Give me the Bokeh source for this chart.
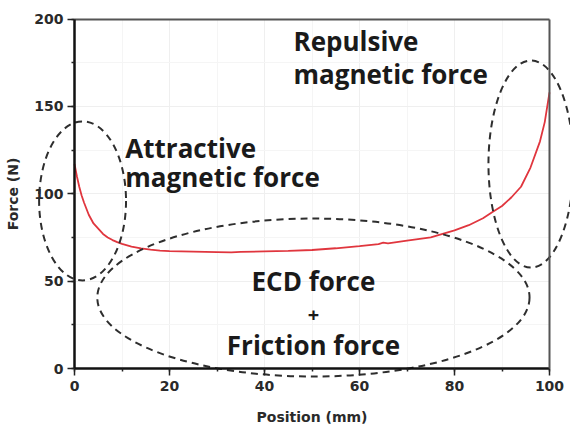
from bokeh.plotting import figure
from bokeh.models import Range1d, SingleIntervalTicker, FixedTicker, Label, LinearAxis, Grid
from bokeh.embed import file_html
from bokeh.resources import INLINE

# measured force curve
position_mm = [0, 0.5, 1, 1.5, 2, 3, 4, 5, 6, 7, 8, 9, 10, 12, 14, 16, 18, 20, 25, 30,
               33, 35, 40, 45, 50, 55, 60, 64, 65, 66, 70, 75, 80, 83, 86, 88, 90, 92, 94, 96, 98, 99, 100]
force_n = [117, 110, 104, 99, 95, 88, 83, 80, 77, 75, 73.5, 72.3, 71.3, 69.8, 68.8, 68, 67.5, 67.2, 66.9, 66.6,
           66.4, 66.7, 67.0, 67.3, 67.8, 68.8, 70.0, 71.2, 72.0, 71.6, 73.2, 75.0, 79.0, 82.0, 86.0, 89.5,
           93, 98, 104, 115, 130, 141, 158]

x_ticks = [0, 20, 40, 60, 80, 100]
y_ticks = [0, 50, 100, 150, 200]

# dashed region outlines (data units): center x, center y, width, height
region_cx = [1.7, 96.1, 50.3]
region_cy = [95.9, 117.0, 40.6]
region_w = [18.3, 17.9, 91.0]
region_h = [91.0, 118.5, 90.4]

W, H = 570, 424
# frame fills the canvas; the axes sit at fixed data locations so that the
# dashed outlines can extend past the axis box as in the original
px_x = 4.75      # pixels per mm
px_y = 1.7475    # pixels per N
x0_px, y0_px = 74, 368
x_range = Range1d(-x0_px / px_x, (W - x0_px) / px_x)
y_range = Range1d(-(H - y0_px) / px_y, y0_px / px_y)

p = figure(width=W, height=H, output_backend="svg", toolbar_location=None,
           x_range=x_range, y_range=y_range, x_axis_location=None, y_axis_location=None,
           min_border=0)
p.outline_line_color = None
p.xgrid.visible = False
p.ygrid.visible = False

tick_font = "DejaVu Sans"

def style_axis(ax):
    ax.axis_line_color = "#111111"
    ax.axis_line_width = 2.5
    ax.major_tick_line_color = "#222222"
    ax.major_tick_line_width = 1.5
    ax.minor_tick_line_color = "#222222"
    ax.minor_tick_line_width = 1.5
    ax.major_tick_out = 7
    ax.major_tick_in = 0
    ax.minor_tick_out = 3
    ax.minor_tick_in = 0
    ax.major_label_text_font = tick_font
    ax.major_label_text_font_style = "bold"
    ax.major_label_text_font_size = "14px"
    ax.major_label_text_color = "#2a2a2a"
    ax.axis_label_text_font = tick_font
    ax.axis_label_text_font_style = "bold"
    ax.axis_label_text_font_size = "14px"
    ax.axis_label_text_color = "#2a2a2a"

xaxis = LinearAxis(ticker=SingleIntervalTicker(interval=20, num_minor_ticks=2),
                   fixed_location=0, bounds=(x_ticks[0], x_ticks[-1]),
                   axis_label="Position (mm)")
style_axis(xaxis)
xaxis.major_label_standoff = 5
xaxis.axis_label_standoff = 15
p.add_layout(xaxis, "below")

yaxis = LinearAxis(ticker=SingleIntervalTicker(interval=50, num_minor_ticks=2),
                   fixed_location=0, bounds=(y_ticks[0], y_ticks[-1]),
                   axis_label="Force (N)")
style_axis(yaxis)
yaxis.major_label_standoff = 4
yaxis.axis_label_standoff = 10
p.add_layout(yaxis, "left")

# box lines on top and right
for place, loc, bnds in (("above", y_ticks[-1], (x_ticks[0], x_ticks[-1])),
                         ("right", x_ticks[-1], (y_ticks[0], y_ticks[-1]))):
    ax = LinearAxis(ticker=FixedTicker(ticks=[]), fixed_location=loc, bounds=bnds)
    ax.axis_line_color = "#555555"
    ax.axis_line_width = 2
    ax.major_tick_line_color = None
    ax.minor_tick_line_color = None
    ax.major_label_text_alpha = 0
    p.add_layout(ax, place)

# faint grid inside the box
for dim, ticker, own, cross in ((0, xaxis.ticker, (x_ticks[0], x_ticks[-1]), (y_ticks[0], y_ticks[-1])),
                                (1, yaxis.ticker, (y_ticks[0], y_ticks[-1]), (x_ticks[0], x_ticks[-1]))):
    try:
        g = Grid(dimension=dim, ticker=ticker, grid_line_color="#efefef",
                 minor_grid_line_color="#f5f5f5", bounds=own)
        g.cross_bounds = cross
        p.add_layout(g)
    except Exception:
        pass

p.line(position_mm, force_n, line_color="#e0363e", line_width=1.8)

p.ellipse(x=region_cx, y=region_cy, width=region_w, height=region_h,
          fill_color=None, line_color="#2e2e2e", line_width=2, line_dash="7 5")

font = "Open Sans"
def lab(x, y, text, size="26px", align="left"):
    p.add_layout(Label(x=x, y=y, text=text, text_font=font, text_font_style="bold",
                       text_font_size=size, text_color="#1a1a1a", text_align=align,
                       text_baseline="alphabetic"))

lab(46.1, 187.3, "Repulsive")
lab(46.1, 168.3, "magnetic force")
lab(10.7, 126.3, "Attractive")
lab(10.7, 109.7, "magnetic force")
lab(50.3, 50.0, "ECD force", align="center")
lab(50.3, 30.5, "+", size="20px", align="center")
lab(50.3, 13.2, "Friction force", align="center")

open("out.html", "w").write(file_html(p, INLINE))
